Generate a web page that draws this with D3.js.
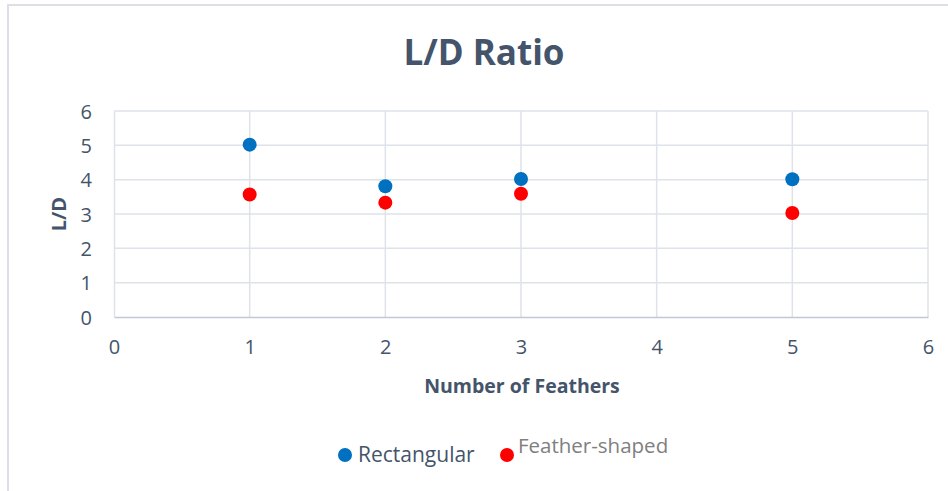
<!DOCTYPE html>
<html>
<head>
<meta charset="utf-8">
<script src="https://cdn.jsdelivr.net/npm/d3@7/dist/d3.min.js"></script>
<style>
  html, body { margin: 0; padding: 0; background: #fff; }
  svg { display: block; font-family: "Open Sans", "Noto Sans", sans-serif; }
</style>
</head>
<body>
<svg id="chart" width="948" height="491"></svg>
<script>
// Lift-to-drag ratio against number of feathers
const feathers = [1, 2, 3, 5];
const rectangular = [5.02, 3.81, 4.02, 4.01];
const featherShaped = [3.57, 3.33, 3.59, 3.03];
const xTicks = [0, 1, 2, 3, 4, 5, 6];
const yTicks = [0, 1, 2, 3, 4, 5, 6];

const seriesList = [
  { name: "Rectangular", values: rectangular, color: "#0070C0" },
  { name: "Feather-shaped", values: featherShaped, color: "#FF0000" }
];

const svg = d3.select("#chart");
const textColor = "#44546A";
const gridColor = "#DEE2E9";

// outer chart border
svg.append("path")
  .attr("d", "M8,491 L8,5 L948,5")
  .attr("fill", "none")
  .attr("stroke", "#DCE0E6")
  .attr("stroke-width", 2);

const plot = { left: 114, right: 928, top: 111, bottom: 317 };

const x = d3.scaleLinear().domain([0, 6]).range([plot.left, plot.right]);
const y = d3.scaleLinear().domain([0, 6]).range([plot.bottom, plot.top]);

// gridlines
const grid = svg.append("g");
grid.selectAll(".hg").data(yTicks.filter(d => d > 0)).join("line")
  .attr("x1", plot.left).attr("x2", plot.right)
  .attr("y1", d => y(d)).attr("y2", d => y(d))
  .attr("stroke", gridColor).attr("stroke-width", 1.5);
grid.selectAll(".vg").data(xTicks.filter(d => d > 0)).join("line")
  .attr("y1", plot.top).attr("y2", plot.bottom)
  .attr("x1", d => x(d)).attr("x2", d => x(d))
  .attr("stroke", gridColor).attr("stroke-width", 1.5);

// axes
const xAxis = svg.append("g")
  .attr("transform", `translate(0,${plot.bottom})`)
  .call(d3.axisBottom(x).tickValues(xTicks).tickSize(0).tickPadding(23).tickFormat(d3.format("d")));
const yAxis = svg.append("g")
  .attr("transform", `translate(${plot.left},0)`)
  .call(d3.axisLeft(y).tickValues(yTicks).tickSize(0).tickPadding(22).tickFormat(d3.format("d")));

xAxis.select(".domain").attr("stroke", "#BFC8D6").attr("stroke-width", 1.5);
yAxis.select(".domain").attr("stroke", gridColor).attr("stroke-width", 1.5);
[xAxis, yAxis].forEach(a => a.selectAll("text")
  .attr("fill", textColor)
  .style("font-size", "20px")
  .style("font-family", "'Open Sans', sans-serif"));
yAxis.selectAll("text").attr("dy", "0.35em");

// points
seriesList.forEach(s => {
  svg.append("g").selectAll("circle")
    .data(feathers.map((f, i) => ({ f, v: s.values[i] })))
    .join("circle")
    .attr("cx", d => x(d.f))
    .attr("cy", d => y(d.v))
    .attr("r", 7)
    .attr("fill", s.color);
});

// title
svg.append("text")
  .attr("x", 484).attr("y", 65)
  .attr("text-anchor", "middle")
  .attr("fill", textColor)
  .style("font-size", "35px")
  .style("font-weight", "bold")
  .text("L/D Ratio");

// axis titles
svg.append("text")
  .attr("x", 522).attr("y", 393)
  .attr("text-anchor", "middle")
  .attr("fill", textColor)
  .style("font-size", "19.5px")
  .style("font-weight", "bold")
  .text("Number of Feathers");

svg.append("text")
  .attr("transform", "translate(66,214) rotate(-90)")
  .attr("text-anchor", "middle")
  .attr("fill", textColor)
  .style("font-size", "20px")
  .style("font-weight", "bold")
  .text("L/D");

// legend
const legend = [
  { name: seriesList[0].name, color: seriesList[0].color, cx: 345, cy: 455, tx: 358, ty: 462, fill: textColor, size: 21 },
  { name: seriesList[1].name, color: seriesList[1].color, cx: 507, cy: 455, tx: 518, ty: 453, fill: "#808080", size: 20.5 }
];
const lg = svg.append("g");
lg.selectAll("circle").data(legend).join("circle")
  .attr("cx", d => d.cx).attr("cy", d => d.cy).attr("r", 7)
  .attr("fill", d => d.color);
lg.selectAll("text").data(legend).join("text")
  .attr("x", d => d.tx).attr("y", d => d.ty)
  .attr("fill", d => d.fill)
  .style("font-size", d => d.size + "px")
  .text(d => d.name);
</script>
</body>
</html>
